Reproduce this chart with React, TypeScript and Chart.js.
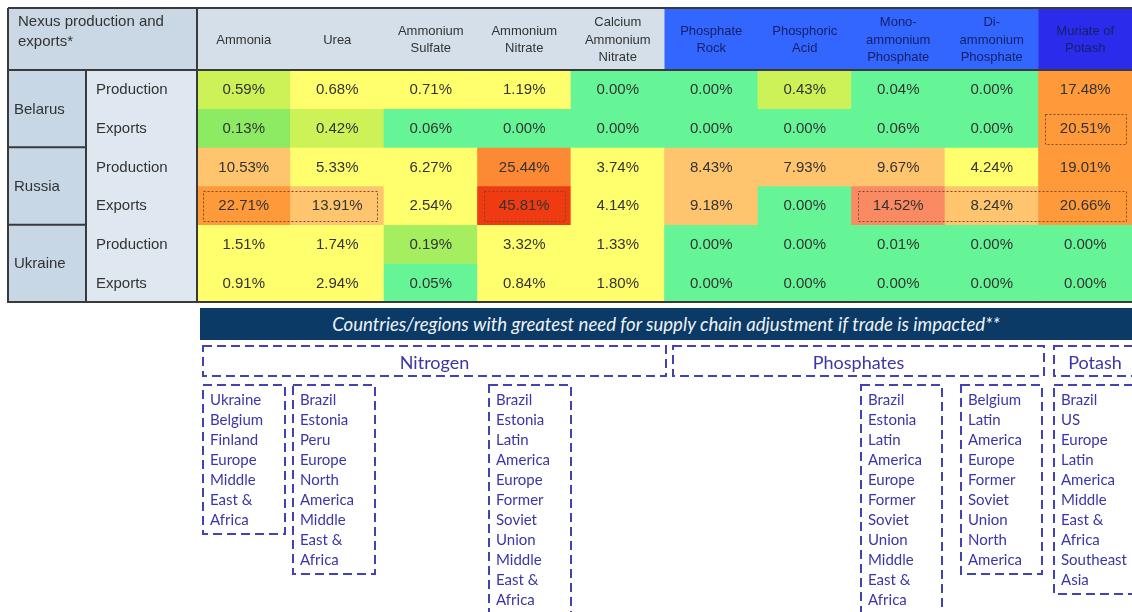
import React, { useEffect, useRef } from "react";
import { Chart, registerables } from "chart.js";

Chart.register(...registerables);

// ---------- DATA ----------
const products: string[][] = [
  ["Ammonia"],
  ["Urea"],
  ["Ammonium", "Sulfate"],
  ["Ammonium", "Nitrate"],
  ["Calcium", "Ammonium", "Nitrate"],
  ["Phosphate", "Rock"],
  ["Phosphoric", "Acid"],
  ["Mono-", "ammonium", "Phosphate"],
  ["Di-", "ammonium", "Phosphate"],
  ["Muriate of", "Potash"],
];
const productGroups = ["N", "N", "N", "N", "N", "P", "P", "P", "P", "K"];
const countries = ["Belarus", "Russia", "Ukraine"];
const measures = ["Production", "Exports"];
const cornerLabel = ["Nexus production and", "exports*"];

const belarusProduction = [0.59, 0.68, 0.71, 1.19, 0.0, 0.0, 0.43, 0.04, 0.0, 17.48];
const belarusExports = [0.13, 0.42, 0.06, 0.0, 0.0, 0.0, 0.0, 0.06, 0.0, 20.51];
const russiaProduction = [10.53, 5.33, 6.27, 25.44, 3.74, 8.43, 7.93, 9.67, 4.24, 19.01];
const russiaExports = [22.71, 13.91, 2.54, 45.81, 4.14, 9.18, 0.0, 14.52, 8.24, 20.66];
const ukraineProduction = [1.51, 1.74, 0.19, 3.32, 1.33, 0.0, 0.0, 0.01, 0.0, 0.0];
const ukraineExports = [0.91, 2.94, 0.05, 0.84, 1.8, 0.0, 0.0, 0.0, 0.0, 0.0];

// highlighted (dotted) cell ranges: [row, fromColumn, toColumn]
const highlights: number[][] = [
  [1, 9, 9],
  [3, 0, 1],
  [3, 3, 3],
  [3, 7, 9],
];

const bannerText =
  "Countries/regions with greatest need for supply chain adjustment if trade is impacted**";
const groupTitles = ["Nitrogen", "Phosphates", "Potash"];
const nitrogenList1 = ["Ukraine", "Belgium", "Finland", "Europe", "Middle", "East &", "Africa"];
const nitrogenList2 = ["Brazil", "Estonia", "Peru", "Europe", "North", "America", "Middle", "East &", "Africa"];
const nitrogenList3 = ["Brazil", "Estonia", "Latin", "America", "Europe", "Former", "Soviet", "Union", "Middle", "East &", "Africa"];
const phosphateList1 = ["Brazil", "Estonia", "Latin", "America", "Europe", "Former", "Soviet", "Union", "Middle", "East &", "Africa"];
const phosphateList2 = ["Belgium", "Latin", "America", "Europe", "Former", "Soviet", "Union", "North", "America"];
const potashList = ["Brazil", "US", "Europe", "Latin", "America", "Middle", "East &", "Africa", "Southeast", "Asia"];

const rows = [
  belarusProduction,
  belarusExports,
  russiaProduction,
  russiaExports,
  ukraineProduction,
  ukraineExports,
];

// ---------- STYLE ----------
const FONT = '"Liberation Sans", Arial, sans-serif';
const LIST_FONT = 'Lato, "Open Sans", sans-serif';
const INDIGO = "#3B36A8";

function cellColor(v: number): string {
  if (v < 0.1) return "#66F596";
  if (v < 0.16) return "#8CEB62";
  if (v < 0.3) return "#A4EE60";
  if (v < 0.65) return "#CDF257";
  if (v < 7) return "#FFFF6E";
  if (v < 14) return "#FFC46E";
  if (v < 16) return "#F98A62";
  if (v < 24) return "#FF9A3A";
  if (v < 35) return "#FC8A34";
  return "#F03A12";
}

const headerBg: Record<string, string> = { N: "#D4DFEA", P: "#3366FF", K: "#2B2BEB" };
const headerFg: Record<string, string> = { N: "#333333", P: "#16206A", K: "#16206A" };

const tablePlugin = {
  id: "tableDecor",
  afterDraw(chart: any) {
    const ctx: CanvasRenderingContext2D = chart.ctx;
    const area = chart.chartArea;
    const xs = chart.scales.x;
    const ys = chart.scales.y;
    const tableLeft = 8;
    const tableTop = 8;
    const countryRight = 86;
    const colW = (area.right - area.left) / products.length;

    ctx.save();
    // corner header
    ctx.fillStyle = "#CAD7E4";
    ctx.fillRect(tableLeft, tableTop, area.left - tableLeft, area.top - tableTop);
    // column headers
    products.forEach((lines, c) => {
      const cx = xs.getPixelForValue(c);
      const g = productGroups[c];
      ctx.fillStyle = headerBg[g];
      ctx.fillRect(cx - colW / 2, tableTop, colW + 0.5, area.top - tableTop);
      ctx.fillStyle = headerFg[g];
      ctx.font = `13px ${FONT}`;
      ctx.textAlign = "center";
      ctx.textBaseline = "middle";
      const lh = 17.5;
      const cy = (tableTop + area.top) / 2 + 1;
      lines.forEach((t, i) => {
        ctx.fillText(t, cx, cy + (i - (lines.length - 1) / 2) * lh);
      });
    });
    // left columns
    ctx.fillStyle = "#C7D7E6";
    ctx.fillRect(tableLeft, area.top, countryRight - tableLeft, area.bottom - area.top);
    ctx.fillStyle = "#DFE8F1";
    ctx.fillRect(countryRight, area.top, area.left - countryRight, area.bottom - area.top);

    ctx.fillStyle = "#333333";
    ctx.font = `15px ${FONT}`;
    ctx.textAlign = "left";
    ctx.textBaseline = "middle";
    ctx.fillText(cornerLabel[0], 18, 22);
    ctx.fillText(cornerLabel[1], 18, 42);

    countries.forEach((name, k) => {
      const top = ys.getPixelForValue(k * 2);
      const bot = ys.getPixelForValue(k * 2 + 2);
      ctx.fillText(name, 14, (top + bot) / 2 + 1);
      measures.forEach((m, j) => {
        const t = ys.getPixelForValue(k * 2 + j);
        const b = ys.getPixelForValue(k * 2 + j + 1);
        ctx.fillText(m, 96, (t + b) / 2 + 1);
      });
    });

    // cell values
    ctx.font = `15px ${FONT}`;
    ctx.textAlign = "center";
    ctx.fillStyle = "#333333";
    rows.forEach((vals, r) => {
      const meta = chart.getDatasetMeta(r);
      vals.forEach((v, c) => {
        const el: any = meta.data[c];
        const p = el.getProps(["x", "y", "base"], true);
        ctx.fillText(v.toFixed(2) + "%", p.x, (p.y + p.base) / 2 + 1);
      });
    });

    // dotted highlight boxes
    ctx.strokeStyle = "#7A4A28";
    ctx.lineWidth = 1;
    ctx.setLineDash([2, 2]);
    highlights.forEach(([r, c0, c1]) => {
      const l = xs.getPixelForValue(c0) - colW / 2 + 6;
      const rr = xs.getPixelForValue(c1) + colW / 2 - 7;
      const t = ys.getPixelForValue(r) + 5;
      const b = ys.getPixelForValue(r + 1) - 4;
      ctx.strokeRect(Math.round(l) + 0.5, Math.round(t) + 0.5, Math.round(rr - l), Math.round(b - t));
    });
    ctx.setLineDash([]);

    // borders
    ctx.strokeStyle = "#3A3A3A";
    ctx.lineWidth = 2;
    ctx.beginPath();
    ctx.moveTo(tableLeft, tableTop);
    ctx.lineTo(area.right + 2, tableTop);
    ctx.moveTo(tableLeft, tableTop);
    ctx.lineTo(tableLeft, area.bottom);
    ctx.lineTo(area.right + 2, area.bottom);
    ctx.moveTo(tableLeft, area.top);
    ctx.lineTo(area.right + 2, area.top);
    ctx.moveTo(area.left, tableTop);
    ctx.lineTo(area.left, area.bottom);
    ctx.moveTo(countryRight, area.top);
    ctx.lineTo(countryRight, area.bottom);
    [2, 4].forEach((v) => {
      const y = ys.getPixelForValue(v);
      ctx.moveTo(tableLeft, y);
      ctx.lineTo(countryRight, y);
    });
    ctx.stroke();
    ctx.restore();
  },
};

// ---------- bottom boxes layout ----------
const listBoxes = [
  { items: nitrogenList1, left: 202, width: 84, height: 151 },
  { items: nitrogenList2, left: 292, width: 84, height: 191 },
  { items: nitrogenList3, left: 488, width: 84, height: 260 },
  { items: phosphateList1, left: 860, width: 83, height: 260 },
  { items: phosphateList2, left: 960, width: 83, height: 191 },
  { items: potashList, left: 1053, width: 100, height: 211 },
];
const groupBoxes = [
  { left: 202, width: 465 },
  { left: 672, width: 373 },
  { left: 1053, width: 100 },
];

export default function App() {
  const ref = useRef<HTMLCanvasElement>(null);

  useEffect(() => {
    if (!ref.current) return;
    const chart = new Chart(ref.current, {
      type: "bar",
      data: {
        labels: products.map((p) => p.join(" ")),
        datasets: rows.map((vals, r) => ({
          label: `${countries[Math.floor(r / 2)]} ${measures[r % 2]}`,
          data: vals.map(() => [r, r + 1]) as any,
          backgroundColor: vals.map(cellColor),
          borderWidth: 0,
          borderSkipped: false,
          grouped: false,
          barPercentage: 1,
          categoryPercentage: 1,
        })),
      },
      options: {
        responsive: false,
        animation: false,
        events: [],
        layout: { padding: { left: 197, top: 70, right: 0, bottom: 310 } },
        scales: {
          x: { type: "category", display: false, offset: true },
          y: { type: "linear", min: 0, max: 6, reverse: true, display: false },
        },
        plugins: {
          legend: { display: false },
          tooltip: { enabled: false },
          title: { display: false },
        },
      },
      plugins: [tablePlugin],
    });
    return () => chart.destroy();
  }, []);

  const dash = { fill: "none", stroke: "#4242B2", strokeWidth: 2, strokeDasharray: "9 5" };

  return (
    <div
      style={{
        position: "absolute",
        left: 0,
        top: 0,
        width: 1132,
        height: 612,
        overflow: "hidden",
        background: "#ffffff",
      }}
    >
      <canvas
        ref={ref}
        width={1132}
        height={612}
        style={{ position: "absolute", left: 0, top: 0, width: 1132, height: 612 }}
      />
      <div
        style={{
          position: "absolute",
          left: 200,
          top: 308,
          width: 940,
          height: 32,
          background: "#0B3A66",
          color: "#EEF2F7",
          fontFamily: LIST_FONT,
          fontStyle: "italic",
          fontSize: 18.6,
          lineHeight: "32px",
          textAlign: "center",
          whiteSpace: "nowrap",
          paddingRight: 8,
          boxSizing: "border-box",
        }}
      >
        {bannerText}
      </div>
      <svg
        width={1132}
        height={612}
        style={{ position: "absolute", left: 0, top: 0, pointerEvents: "none" }}
      >
        {groupBoxes.map((b, i) => (
          <rect key={"g" + i} x={b.left + 1} y={346} width={b.width - 2} height={30} {...dash} />
        ))}
        {listBoxes.map((b, i) => (
          <rect key={"l" + i} x={b.left + 1} y={385} width={b.width - 2} height={b.height - 2} {...dash} />
        ))}
      </svg>
      {groupBoxes.map((b, i) => (
        <div
          key={"gt" + i}
          style={{
            position: "absolute",
            left: b.left,
            top: 346,
            width: i === 2 ? 84 : b.width,
            height: 32,
            lineHeight: "32px",
            textAlign: "center",
            fontFamily: LIST_FONT,
            fontSize: 18,
            color: INDIGO,
            whiteSpace: "nowrap",
          }}
        >
          {groupTitles[i]}
        </div>
      ))}
      {listBoxes.map((b, i) => (
        <div
          key={"lt" + i}
          style={{
            position: "absolute",
            left: b.left + 8,
            top: 389,
            fontFamily: LIST_FONT,
            fontSize: 15,
            lineHeight: "20px",
            color: INDIGO,
            whiteSpace: "nowrap",
          }}
        >
          {b.items.map((t, k) => (
            <div key={k}>{t}</div>
          ))}
        </div>
      ))}
    </div>
  );
}
